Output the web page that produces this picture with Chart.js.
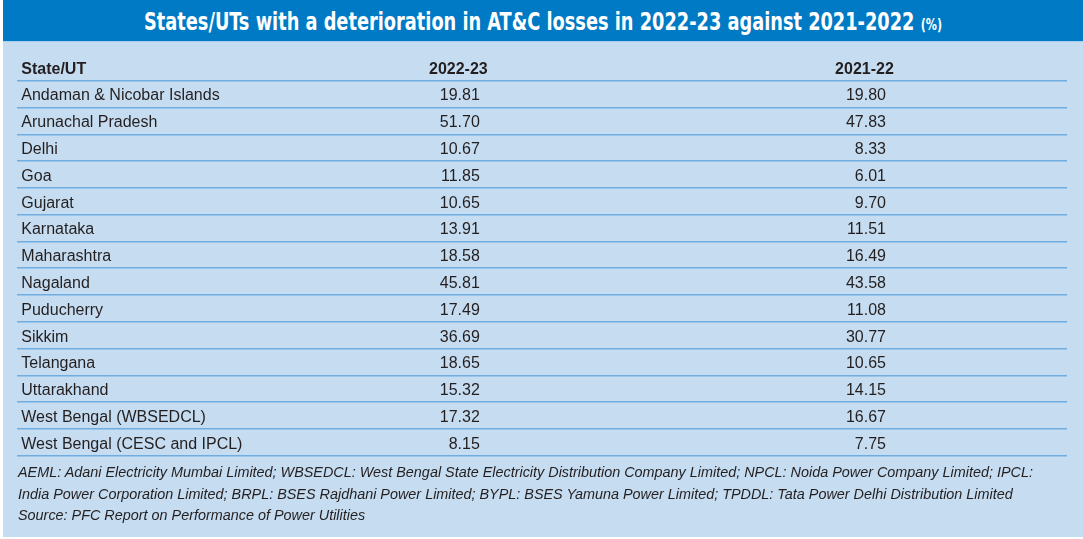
<!DOCTYPE html>
<html>
<head>
<meta charset="utf-8">
<script src="https://cdn.jsdelivr.net/npm/chart.js@4.4.1/dist/chart.umd.min.js"></script>
<style>
  html, body { margin: 0; padding: 0; background: #ffffff; }
  body { width: 1083px; height: 539px; position: relative; overflow: hidden; }
  #bg { position: absolute; left: 3px; top: 0; width: 1080px; height: 537px; background: #c6dcf0; }
  #band { position: absolute; left: 3px; top: 0; width: 1080px; height: 42px; background: #007ac4;
          border-bottom: 1.5px solid #a7cbea; box-sizing: border-box; }
  #titleWrap { position: absolute; left: 3px; top: 0; width: 1080px; height: 42px; text-align: center;
               line-height: 42px; white-space: nowrap; }
  #title { display: inline-block; color: #ffffff; font-family: "Liberation Sans Narrow", "DejaVu Sans Condensed", "Liberation Sans", sans-serif;
           font-weight: bold; font-size: 25.5px; transform-origin: 50% 50%; }
  #title .pct { font-size: 16px; font-weight: bold; }
  #chart { position: absolute; left: 0; top: 0; }
  #notes { position: absolute; left: 18px; top: 462.4px; font-family: "Liberation Sans", Arial, sans-serif;
           font-style: italic; font-size: 14.4px; line-height: 21.3px; color: #231f20; white-space: nowrap; }
</style>
</head>
<body>
<div id="bg"></div>
<div id="band"></div>
<div id="titleWrap"><span id="title"><span id="tmain"></span> <span class="pct" id="tpct"></span></span></div>
<canvas id="chart" width="1083" height="539"></canvas>
<div id="notes"></div>
<script>
// ---- data ----
const titleText = "States/UTs with a deterioration in AT&C losses in 2022-23 against 2021-2022";
const titleUnit = "(%)";
const headerLabel = "State/UT";
const states = [
  "Andaman & Nicobar Islands", "Arunachal Pradesh", "Delhi", "Goa", "Gujarat", "Karnataka",
  "Maharashtra", "Nagaland", "Puducherry", "Sikkim", "Telangana", "Uttarakhand",
  "West Bengal (WBSEDCL)", "West Bengal (CESC and IPCL)"
];
const seriesNames = ["2022-23", "2021-22"];
const losses2022_23 = [19.81, 51.70, 10.67, 11.85, 10.65, 13.91, 18.58, 45.81, 17.49, 36.69, 18.65, 15.32, 17.32, 8.15];
const losses2021_22 = [19.80, 47.83, 8.33, 6.01, 9.70, 11.51, 16.49, 43.58, 11.08, 30.77, 10.65, 14.15, 16.67, 7.75];
const footnotes = [
  "AEML: Adani Electricity Mumbai Limited; WBSEDCL: West Bengal State Electricity Distribution Company Limited; NPCL: Noida Power Company Limited; IPCL:",
  "India Power Corporation Limited; BRPL: BSES Rajdhani Power Limited; BYPL: BSES Yamuna Power Limited; TPDDL: Tata Power Delhi Distribution Limited",
  "Source: PFC Report on Performance of Power Utilities"
];

// ---- styles ----
const TEXT = "#231f20";
const LINE = "#6facdf";
const FONT = '"Liberation Sans", Arial, Helvetica, sans-serif';
const TEXT_SHIFT = 2;

document.getElementById("tmain").textContent = titleText;
document.getElementById("tpct").textContent = titleUnit;
const notesEl = document.getElementById("notes");
footnotes.forEach((t) => {
  const d = document.createElement("div");
  d.textContent = t;
  notesEl.appendChild(d);
});
// fit title width
const tEl = document.getElementById("title");
const tw = tEl.getBoundingClientRect().width;
tEl.style.transform = "scaleX(" + (798 / tw) + ")";

Chart.defaults.font.family = FONT;
Chart.defaults.color = TEXT;

const rowLabels = [headerLabel, ...states];

const tableText = {
  id: "tableText",
  afterDatasetsDraw(chart) {
    const ctx = chart.ctx;
    const yS = chart.scales.y;
    const cS = chart.scales.col;
    ctx.save();
    ctx.fillStyle = TEXT;
    ctx.textBaseline = "middle";
    chart.data.datasets.forEach((ds, di) => {
      const xr = cS.getPixelForValue(di + 1);
      ctx.font = "bold 16px " + FONT;
      ctx.textAlign = "center";
      ctx.fillText(ds.label, xr - 21.5, yS.getPixelForValue(0) + TEXT_SHIFT);
      ctx.font = "16px " + FONT;
      ctx.textAlign = "right";
      ds.data.forEach((v, i) => {
        if (v === null) return;
        ctx.fillText(v.toFixed(2), xr, yS.getPixelForValue(i) + TEXT_SHIFT);
      });
    });
    ctx.restore();
  }
};

new Chart(document.getElementById("chart"), {
  type: "bar",
  data: {
    labels: rowLabels,
    datasets: [
      { label: seriesNames[0], data: [null, ...losses2022_23], backgroundColor: "rgba(0,0,0,0)", borderWidth: 0 },
      { label: seriesNames[1], data: [null, ...losses2021_22], backgroundColor: "rgba(0,0,0,0)", borderWidth: 0 }
    ]
  },
  options: {
    indexAxis: "y",
    responsive: false,
    animation: false,
    events: [],
    layout: { padding: { top: 53.9, bottom: 83.3, left: 9.3, right: 16 } },
    plugins: { legend: { display: false }, tooltip: { enabled: false }, title: { display: false } },
    scales: {
      x: { display: false, min: 0, max: 60 },
      col: { axis: "x", type: "linear", display: false, min: -0.139, max: 2.4458 },
      y: {
        type: "category",
        offset: true,
        border: { display: false },
        grid: {
          offset: true,
          drawTicks: false,
          lineWidth: 1.4,
          color: (c) => (c.index === 0 ? "rgba(0,0,0,0)" : LINE)
        },
        ticks: {
          mirror: true,
          padding: 4,
          labelOffset: TEXT_SHIFT,
          color: TEXT,
          font: (c) => (c.index === 0 ? { size: 16, weight: "bold" } : { size: 16 })
        }
      }
    }
  },
  plugins: [tableText]
});
</script>
</body>
</html>
